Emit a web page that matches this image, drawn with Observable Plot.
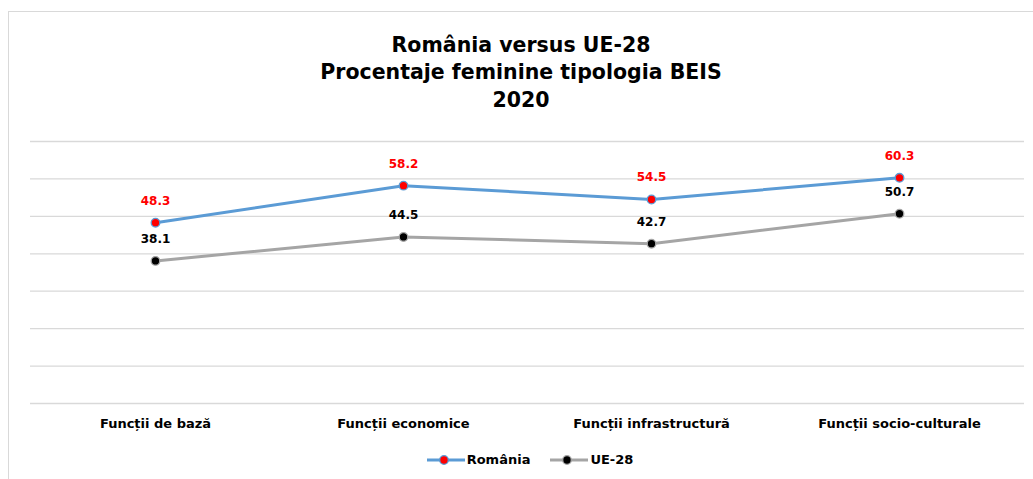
<!DOCTYPE html>
<html>
<head>
<meta charset="utf-8">
<script src="https://cdn.jsdelivr.net/npm/d3@7"></script>
<script src="https://cdn.jsdelivr.net/npm/@observablehq/plot@0.6"></script>
<style>
  html, body { margin: 0; padding: 0; background: #fff; width: 1033px; height: 479px; overflow: hidden; position: relative; }
  #frame { position: absolute; left: 8px; top: 11px; width: 1100px; height: 600px; border: 1px solid #d9d9d9; box-sizing: border-box; }
  #title { position: absolute; left: 0; top: 0; width: 1042px; text-align: center; font-family: "DejaVu Sans", sans-serif; font-weight: bold; font-size: 20.5px; line-height: 27.3px; padding-top: 32px; color: #000; }
  #chart { position: absolute; left: 0; top: 130px; }
  #legend { position: absolute; left: 0; top: 452px; width: 1060px; display: flex; justify-content: center; align-items: center; font-family: "DejaVu Sans", sans-serif; font-weight: bold; font-size: 13px; color: #000; }
  .item { display: flex; align-items: center; margin: 0 10px; }
  .item svg { margin-right: 2px; }
</style>
</head>
<body>
<div id="frame"></div>
<div id="title">România versus UE-28<br>Procentaje feminine tipologia BEIS<br>2020</div>
<div id="chart"></div>
<div id="legend"></div>
<script>
const categories = ["Funcții de bază", "Funcții economice", "Funcții infrastructură", "Funcții socio-culturale"];
const romania = [48.3, 58.2, 54.5, 60.3];
const ue28 = [38.1, 44.5, 42.7, 50.7];
const gridTicks = [0, 10, 20, 30, 40, 50, 60, 70];

const series = [
  {name: "România", values: romania, line: "#5b9bd5", dot: "#ff0000", label: "#ff0000"},
  {name: "UE-28", values: ue28, line: "#a5a5a5", dot: "#000000", label: "#000000"}
];

const data = series.flatMap(s => categories.map((c, i) => ({series: s.name, category: c, value: s.values[i]})));
const colorOf = (key) => Object.fromEntries(series.map(s => [s.name, s[key]]));
const lineC = colorOf("line"), dotC = colorOf("dot"), labelC = colorOf("label");

const plot = Plot.plot({
  width: 1033,
  height: 313,
  marginLeft: 30,
  marginRight: 9,
  marginTop: 11,
  marginBottom: 40,
  x: {type: "point", domain: categories, padding: 0.5, label: null},
  y: {domain: [0, 70], axis: null},
  style: {background: "transparent"},
  marks: [
    Plot.ruleY(gridTicks, {stroke: "#d9d9d9", strokeWidth: 1.3}),
    Plot.axisX({tickSize: 0, tickPadding: 15, fontSize: 13, fontWeight: "bold", fill: "#000", fontFamily: "DejaVu Sans, sans-serif", label: null}),
    Plot.line(data, {x: "category", y: "value", z: "series", stroke: d => lineC[d.series], strokeWidth: 3, curve: "linear"}),
    Plot.dot(data, {x: "category", y: "value", r: 4.3, fill: d => dotC[d.series], stroke: d => lineC[d.series], strokeWidth: 1.3}),
    Plot.text(data, {x: "category", y: "value", text: d => d.value.toFixed(1), dy: -22, fill: d => labelC[d.series], fontSize: 12, fontWeight: "bold", fontFamily: "DejaVu Sans, sans-serif"})
  ]
});
document.getElementById("chart").appendChild(plot);

const legend = document.getElementById("legend");
for (const s of series) {
  const item = document.createElement("div");
  item.className = "item";
  item.innerHTML = `<svg width="38" height="12"><line x1="0" x2="38" y1="6" y2="6" stroke="${s.line}" stroke-width="3"/><circle cx="17" cy="6" r="4.3" fill="${s.dot}" stroke="${s.line}" stroke-width="1.3"/></svg><span>${s.name}</span>`;
  legend.appendChild(item);
}
</script>
</body>
</html>
